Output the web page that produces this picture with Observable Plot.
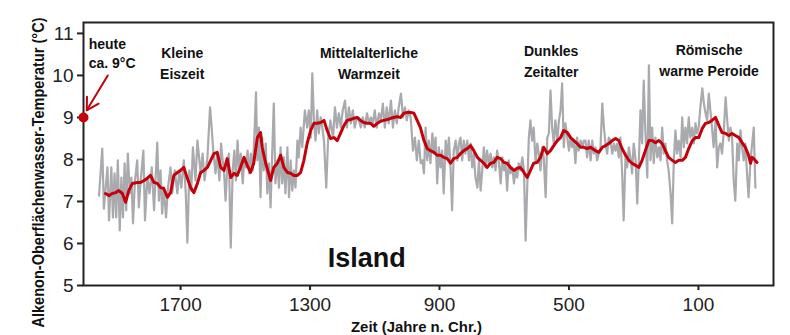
<!DOCTYPE html>
<html><head><meta charset="utf-8">
<script src="https://cdn.jsdelivr.net/npm/d3@7"></script>
<script src="https://cdn.jsdelivr.net/npm/@observablehq/plot@0.6"></script>
<style>body{margin:0;background:#fff}svg{display:block}</style>
</head><body><div id="chart"></div>
<script>
// Raw alkenone SST values (grey)
const grayYears = [1952,1942,1937,1926,1921,1914,1909,1904,1899,1894,1888,1883,1878,1873,1868,1863,1857,1852,1847,1841,1834,1829,1824,1815,1810,1803,1796,1789,1782,1772,1767,1762,1757,1752,1745,1739,1731,1726,1718,1710,1704,1698,1690,1684,1679,1673,1667,1662,1654,1648,1638,1632,1626,1617,1609,1604,1599,1592,1587,1580,1575,1570,1566,1561,1556,1551,1545,1539,1534,1529,1524,1519,1514,1508,1503,1498,1493,1488,1483,1477,1471,1467,1463,1458,1453,1448,1443,1437,1432,1427,1422,1417,1412,1407,1401,1396,1391,1386,1381,1376,1370,1365,1360,1355,1350,1345,1339,1335,1329,1324,1316,1309,1304,1298,1293,1288,1283,1278,1273,1267,1262,1257,1250,1244,1237,1229,1223,1217,1211,1205,1199,1192,1186,1180,1174,1168,1162,1155,1149,1143,1137,1131,1124,1118,1112,1106,1100,1094,1087,1081,1075,1069,1063,1057,1050,1044,1038,1032,1026,1019,1013,1007,1001,995,989,982,976,970,964,958,953,948,943,938,933,928,922,917,912,907,902,897,892,887,881,876,871,866,861,856,850,845,840,835,830,825,820,814,809,804,799,794,789,783,778,773,768,763,758,753,748,742,737,732,727,722,717,711,706,701,696,691,686,681,675,670,665,660,655,650,644,639,634,629,624,619,614,609,603,598,593,588,583,578,572,567,562,557,552,547,542,536,531,526,521,516,511,505,500,495,490,485,480,475,470,464,459,454,449,444,439,433,428,423,418,413,408,403,397,392,387,382,377,372,366,361,356,351,346,341,336,331,325,320,315,310,305,300,294,289,284,279,274,269,264,258,253,248,243,238,233,227,222,217,212,207,202,197,192,186,181,176,171,166,161,155,150,145,140,135,130,125,119,114,109,104,99,94,88,83,78,73,68,63,58,53,47,42,37,32,27,22,16,11,6,1,-4,-9,-14,-20,-25,-30,-35,-40,-45,-51,-55,-61,-66,-71,-76];
const grayTemps = [7.14,8.26,6.83,7.81,6.55,7.81,6.62,7.67,6.62,7.98,6.31,7.57,6.62,7.91,6.79,8.14,7.19,7.57,6.48,7.50,7.98,6.86,7.43,8.21,6.55,7.57,7.19,7.81,6.79,8.40,7.02,7.74,6.71,7.33,6.62,7.33,7.81,7.19,7.74,7.19,7.74,7.33,7.98,7.19,6.02,7.74,7.26,8.29,7.50,8.45,7.67,8.14,7.50,8.05,9.24,8.76,8.21,7.67,8.14,7.50,8.38,7.98,7.74,7.02,7.81,8.14,5.90,7.74,8.21,7.50,8.45,7.74,8.14,7.43,8.05,7.81,8.21,7.67,8.14,7.74,8.76,9.60,7.98,8.76,7.10,8.52,7.74,8.38,7.19,7.91,6.86,8.14,9.33,7.43,7.98,7.33,8.29,7.43,8.05,7.19,8.29,7.10,7.98,7.26,7.74,7.33,8.45,8.05,8.76,8.29,9.17,8.76,9.17,8.52,10.05,8.93,8.45,9.17,8.62,9.00,8.76,8.45,7.33,8.52,8.93,8.52,9.24,8.76,9.10,8.76,9.17,9.40,8.76,9.24,8.86,9.17,8.76,9.00,8.93,8.76,9.00,8.76,9.10,8.86,9.00,8.86,9.17,8.76,9.10,8.93,9.33,8.76,9.24,8.86,9.40,8.76,9.17,8.86,9.24,9.57,9.00,9.24,8.93,9.17,9.00,8.21,8.52,7.98,8.45,7.91,7.98,7.67,8.76,7.98,8.45,7.91,8.62,8.14,8.52,7.43,8.29,7.81,8.21,7.19,8.45,8.05,8.52,7.81,6.79,8.21,8.45,7.98,8.38,8.52,7.98,8.45,8.14,8.45,7.98,8.38,7.81,8.14,7.57,7.33,7.98,7.26,7.74,8.29,7.81,8.21,7.91,8.14,7.81,8.05,7.74,8.21,7.98,7.43,8.05,7.74,7.91,7.26,7.98,7.67,7.81,7.43,7.74,7.57,7.91,7.74,8.05,7.74,6.07,7.33,8.52,8.93,8.45,8.76,7.91,8.38,8.14,7.74,8.29,8.05,7.10,8.52,8.62,9.64,8.76,8.38,8.93,8.45,8.93,9.17,9.81,8.29,8.86,8.52,8.21,8.52,8.29,8.45,7.91,8.52,8.21,8.45,8.29,8.45,8.45,8.05,8.45,7.98,8.45,8.14,8.29,7.98,8.14,8.21,9.33,8.76,8.38,8.14,8.52,8.45,8.14,8.38,8.21,8.38,8.05,8.52,7.74,6.55,8.14,7.81,8.29,8.05,7.67,8.38,7.98,6.95,7.98,9.17,8.38,9.88,8.69,7.57,10.24,7.98,8.76,7.91,8.52,8.05,8.29,7.98,8.76,8.14,8.38,7.98,7.74,7.19,6.48,7.98,8.69,8.14,8.45,8.05,9.00,8.29,8.76,8.38,9.00,8.52,8.76,8.38,8.86,8.62,8.76,9.24,9.69,9.33,9.10,8.93,9.57,9.17,8.76,8.29,8.93,7.81,8.29,8.38,8.14,8.62,9.48,8.93,8.45,8.76,8.52,7.50,7.02,8.38,7.98,8.69,8.29,7.98,8.38,7.57,7.10,7.98,8.38,8.76,7.33];
// Running mean (red)
const redYears = [1932,1921,1911,1901,1891,1880,1870,1860,1849,1834,1824,1813,1803,1793,1782,1772,1762,1752,1741,1731,1721,1710,1700,1690,1679,1669,1659,1648,1638,1628,1617,1607,1597,1587,1576,1566,1556,1545,1535,1525,1515,1504,1494,1484,1474,1463,1453,1448,1437,1422,1412,1401,1391,1381,1370,1360,1350,1339,1329,1319,1309,1298,1288,1278,1267,1257,1247,1237,1226,1216,1206,1195,1185,1175,1165,1154,1144,1134,1123,1113,1103,1092,1082,1072,1061,1051,1041,1031,1020,1010,1000,989,979,969,959,948,938,928,917,907,897,887,876,866,856,845,835,825,814,804,794,783,773,763,753,742,732,722,711,701,691,681,670,660,650,639,629,619,609,598,588,578,567,557,547,536,526,516,505,495,485,475,464,454,444,433,428,418,408,397,387,377,366,356,346,336,325,315,305,294,284,274,264,253,243,233,222,212,202,192,181,171,161,150,140,130,119,109,99,88,78,68,58,47,37,27,16,6,-4,-14,-25,-35,-45,-55,-61,-66,-71,-81];
const redTemps = [7.19,7.14,7.19,7.21,7.26,7.19,6.98,7.26,7.43,7.45,7.45,7.50,7.55,7.62,7.45,7.43,7.33,7.31,7.10,7.21,7.62,7.69,7.74,7.81,7.55,7.33,7.21,7.43,7.69,7.74,7.81,7.98,8.14,8.17,7.81,7.74,8.02,7.57,7.67,7.62,7.81,8.05,7.86,7.69,7.91,8.52,8.64,8.29,7.91,7.50,7.81,7.91,8.10,7.81,7.69,7.67,7.62,7.62,7.69,7.98,8.38,8.69,8.86,8.86,8.88,8.93,8.69,8.50,8.52,8.45,8.62,8.81,8.93,8.95,8.98,9.00,8.93,8.88,8.86,8.86,8.79,8.86,8.91,8.93,8.95,8.98,9.00,9.02,9.00,9.10,9.12,9.12,9.10,8.93,8.76,8.45,8.26,8.21,8.17,8.10,8.10,8.05,8.02,7.91,8.02,8.05,8.14,8.21,8.26,8.33,8.21,8.05,7.98,7.91,7.81,7.91,7.93,8.05,8.02,7.93,7.91,7.81,7.74,7.79,7.81,7.69,7.57,7.74,7.91,7.93,8.05,8.29,8.14,8.21,8.33,8.45,8.52,8.69,8.64,8.52,8.45,8.38,8.29,8.29,8.26,8.29,8.26,8.21,8.17,8.29,8.33,8.38,8.45,8.50,8.45,8.26,8.10,7.98,7.91,7.86,7.81,7.98,8.21,8.45,8.45,8.40,8.45,8.38,8.21,8.05,7.98,7.93,7.98,7.98,8.05,8.26,8.45,8.52,8.52,8.74,8.86,8.88,8.93,9.00,8.81,8.64,8.62,8.57,8.62,8.57,8.52,8.40,8.29,8.10,7.91,8.05,8.02,7.93];
const xTicks = [1700, 1300, 900, 500, 100];
const yTicks = [5, 6, 7, 8, 9, 10, 11];
const periodNames = ["Kleine\nEiszeit", "Mittelalterliche\nWarmzeit", "Dunkles\nZeitalter", "Römische\nwarme Peroide"];
const periodYears = [1695, 1118, 555, 67];
const periodTemps = [10.32, 10.32, 10.38, 10.39];
const todayYear = 2000, todayTemp = 9;

const gray = grayYears.map((year, i) => ({year, temp: grayTemps[i]}));
const red = redYears.map((year, i) => ({year, temp: redTemps[i]}));
const periods = periodNames.map((text, i) => ({text, year: periodYears[i], temp: periodTemps[i]}));

const sans = "'Liberation Sans', Arial, Helvetica, sans-serif";
const ink = "#222";
const xTitle = "Zeit (Jahre n. Chr.)";
const yTitle = "Alkenon-Oberflächenwasser-Temperatur (°C)";

const chart = Plot.plot({
  width: 790, height: 335,
  marginLeft: 83, marginRight: 17, marginTop: 22, marginBottom: 50,
  style: {fontFamily: sans, background: "#fff", overflow: "visible"},
  x: {domain: [2000, -132]},
  y: {domain: [5, 11.26]},
  marks: [
    Plot.line(gray, {x: "year", y: "temp", stroke: "#a9aaad", strokeWidth: 2.2}),
    Plot.line(red, {x: "year", y: "temp", stroke: "#c4000b", strokeWidth: 3}),
    Plot.frame({stroke: ink, strokeWidth: 2}),
    Plot.axisX({ticks: xTicks, tickFormat: d => String(d), tickSize: 5, tickPadding: 7, fontSize: 19, stroke: ink, strokeWidth: 2, fill: ink, label: null}),
    Plot.axisY({ticks: yTicks, tickFormat: d => String(d), tickSize: 6, tickPadding: 4, fontSize: 19, stroke: ink, strokeWidth: 2, fill: ink, label: null}),
    Plot.text(periods, {x: "year", y: "temp", text: "text", fontSize: 14, fontWeight: "bold", lineHeight: 1.5, fill: "#111", textAnchor: "middle"}),
    Plot.text([{year: 1984, temp: 10.54, text: "heute\nca. 9°C"}], {x: "year", y: "temp", text: "text", fontSize: 14, fontWeight: "bold", lineHeight: 1.36, fill: "#111", textAnchor: "start"}),
    Plot.arrow([{x1: 1925, y1: 10.0, x2: 1990, y2: 9.17}], {x1: "x1", y1: "y1", x2: "x2", y2: "y2", stroke: "#c4000b", strokeWidth: 2, headLength: 11, bend: 0}),
    Plot.dot([{year: todayYear, temp: todayTemp}], {x: "year", y: "temp", r: 5, fill: "#c4000b"}),
    Plot.text(["Island"], {x: 1125, y: 5.64, fontSize: 27, fontWeight: "bold", fill: "#111"}),
    Plot.text([xTitle], {frameAnchor: "bottom", lineAnchor: "bottom", dy: 46, dx: -12, fontSize: 15, fontWeight: "bold", fill: "#111"}),
    Plot.text([yTitle], {frameAnchor: "top-left", rotate: -90, textAnchor: "end", lineAnchor: "bottom", dx: -40, dy: -5, fontSize: 16.5, fontWeight: "bold", fill: "#111"})
  ]
});
// condense the axis titles (narrow bold face as in the original)
d3.select(chart).selectAll("text").each(function() {
  const t = this.textContent;
  if (t === yTitle) d3.select(this).attr("textLength", 310).attr("lengthAdjust", "spacingAndGlyphs");
  if (t === xTitle) d3.select(this).attr("textLength", 131).attr("lengthAdjust", "spacingAndGlyphs");
});
document.getElementById("chart").appendChild(chart);
</script>
</body></html>
